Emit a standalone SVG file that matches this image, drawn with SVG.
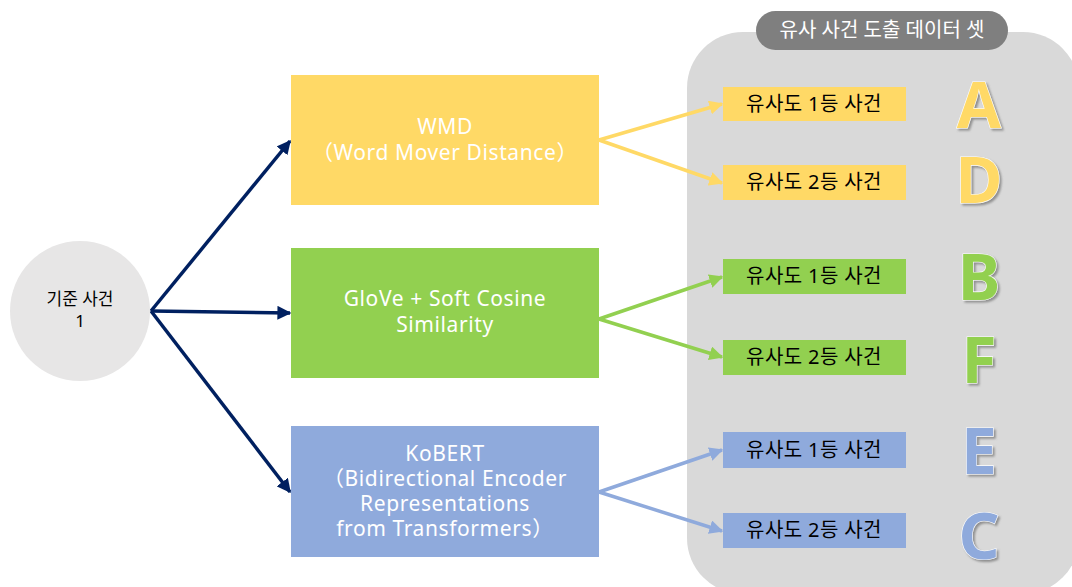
<svg xmlns="http://www.w3.org/2000/svg" width="1072" height="587" viewBox="0 0 1072 587">
  <defs>
    <style>
      .kr { font-family: "Noto Sans", "Noto Sans CJK KR", sans-serif; }
      .box-label { font-size: 21px; fill: #ffffff; text-anchor: middle; letter-spacing: 0.6px; }
      .tag { font-size: 20px; fill: #000000; text-anchor: middle; letter-spacing: 0.4px; }
      .grade { font-family: "Noto Sans", "Liberation Sans", sans-serif; font-weight: bold; font-size: 64px; text-anchor: middle; stroke: #ffffff; stroke-width: 1.2; paint-order: stroke; filter: url(#letter-shadow); }
      .main-link { stroke: #002060; stroke-width: 3.5; fill: none; }
      .y-link { stroke: #FFD966; stroke-width: 3.5; fill: none; }
      .g-link { stroke: #92D050; stroke-width: 3.5; fill: none; }
      .b-link { stroke: #8FAADC; stroke-width: 3.5; fill: none; }
    </style>
    <filter id="letter-shadow" x="-20%" y="-20%" width="140%" height="140%">
      <feDropShadow dx="2" dy="2" stdDeviation="0.8" flood-color="#6f6f6f" flood-opacity="0.7"/>
    </filter>
    <marker id="ah-navy" viewBox="0 0 10 10" refX="9" refY="5" markerWidth="4" markerHeight="4" orient="auto" markerUnits="strokeWidth">
      <path d="M0,0 L10,5 L0,10 z" fill="#002060"/>
    </marker>
    <marker id="ah-yellow" viewBox="0 0 10 10" refX="9" refY="5" markerWidth="4" markerHeight="4" orient="auto" markerUnits="strokeWidth">
      <path d="M0,0 L10,5 L0,10 z" fill="#FFD966"/>
    </marker>
    <marker id="ah-green" viewBox="0 0 10 10" refX="9" refY="5" markerWidth="4" markerHeight="4" orient="auto" markerUnits="strokeWidth">
      <path d="M0,0 L10,5 L0,10 z" fill="#92D050"/>
    </marker>
    <marker id="ah-blue" viewBox="0 0 10 10" refX="9" refY="5" markerWidth="4" markerHeight="4" orient="auto" markerUnits="strokeWidth">
      <path d="M0,0 L10,5 L0,10 z" fill="#8FAADC"/>
    </marker>
  </defs>

  <rect x="0" y="0" width="1072" height="587" fill="#ffffff"/>

  <!-- result panel -->
  <g id="result-panel">
    <rect x="687" y="32" width="392" height="562" rx="56" ry="56" fill="#D9D9D9"/>
    <rect x="756" y="11" width="252" height="39" rx="19.5" ry="19.5" fill="#7F7F7F"/>
    <text class="kr" x="882" y="37" font-size="20" fill="#ffffff" text-anchor="middle">유사 사건 도출 데이터 셋</text>
  </g>

  <!-- connectors -->
  <g id="connectors">
    <line class="main-link" x1="151" y1="311" x2="290" y2="141" marker-end="url(#ah-navy)"/>
    <line class="main-link" x1="151" y1="311" x2="290" y2="313" marker-end="url(#ah-navy)"/>
    <line class="main-link" x1="151" y1="311" x2="290" y2="492" marker-end="url(#ah-navy)"/>
    <line class="y-link" x1="599" y1="140" x2="722" y2="104" marker-end="url(#ah-yellow)"/>
    <line class="y-link" x1="599" y1="140" x2="722" y2="183" marker-end="url(#ah-yellow)"/>
    <line class="g-link" x1="599" y1="319" x2="722" y2="277" marker-end="url(#ah-green)"/>
    <line class="g-link" x1="599" y1="319" x2="722" y2="357" marker-end="url(#ah-green)"/>
    <line class="b-link" x1="599" y1="492" x2="722" y2="450" marker-end="url(#ah-blue)"/>
    <line class="b-link" x1="599" y1="492" x2="722" y2="531" marker-end="url(#ah-blue)"/>
  </g>

  <!-- source case -->
  <g id="source-case">
    <circle cx="80" cy="311" r="70" fill="#E7E6E6"/>
    <text class="kr" x="80" y="305" font-size="17" fill="#000000" text-anchor="middle">기준 사건</text>
    <text class="kr" x="80" y="327" font-size="17" fill="#000000" text-anchor="middle">1</text>
  </g>

  <!-- model nodes -->
  <g id="model-wmd">
    <rect x="291" y="75" width="308" height="130" fill="#FFD966"/>
    <text class="kr box-label" x="445" y="134">WMD</text>
    <text class="kr box-label" x="445" y="160">（Word Mover Distance）</text>
  </g>
  <g id="model-glove">
    <rect x="291" y="248" width="308" height="130" fill="#92D050"/>
    <text class="kr box-label" x="445" y="306">GloVe + Soft Cosine</text>
    <text class="kr box-label" x="445" y="332">Similarity</text>
  </g>
  <g id="model-kobert">
    <rect x="291" y="426" width="308" height="131" fill="#8FAADC"/>
    <text class="kr box-label" x="445" y="461">KoBERT</text>
    <text class="kr box-label" x="445" y="486">（Bidirectional Encoder</text>
    <text class="kr box-label" x="445" y="511">Representations</text>
    <text class="kr box-label" x="445" y="536">from Transformers）</text>
  </g>

  <!-- ranked results -->
  <g id="wmd-rank1">
    <rect x="723" y="87" width="183" height="34" fill="#FFD966"/>
    <text class="kr tag" x="814" y="111">유사도 1등 사건</text>
  </g>
  <g id="wmd-rank2">
    <rect x="723" y="165" width="183" height="35" fill="#FFD966"/>
    <text class="kr tag" x="814" y="189">유사도 2등 사건</text>
  </g>
  <g id="glove-rank1">
    <rect x="723" y="259" width="183" height="35" fill="#92D050"/>
    <text class="kr tag" x="814" y="283">유사도 1등 사건</text>
  </g>
  <g id="glove-rank2">
    <rect x="723" y="340" width="183" height="35" fill="#92D050"/>
    <text class="kr tag" x="814" y="364">유사도 2등 사건</text>
  </g>
  <g id="kobert-rank1">
    <rect x="723" y="432" width="183" height="36" fill="#8FAADC"/>
    <text class="kr tag" x="814" y="457">유사도 1등 사건</text>
  </g>
  <g id="kobert-rank2">
    <rect x="723" y="513" width="183" height="35" fill="#8FAADC"/>
    <text class="kr tag" x="814" y="537">유사도 2등 사건</text>
  </g>

  <!-- case letters -->
  <g id="case-letters">
    <text class="grade" x="979" y="128" fill="#FFD966">A</text>
    <text class="grade" x="979" y="203" fill="#FFD966">D</text>
    <text class="grade" x="979" y="300" fill="#92D050">B</text>
    <text class="grade" x="979" y="383" fill="#92D050">F</text>
    <text class="grade" x="979" y="474" fill="#8FAADC">E</text>
    <text class="grade" x="979" y="559" fill="#8FAADC">C</text>
  </g>
</svg>
